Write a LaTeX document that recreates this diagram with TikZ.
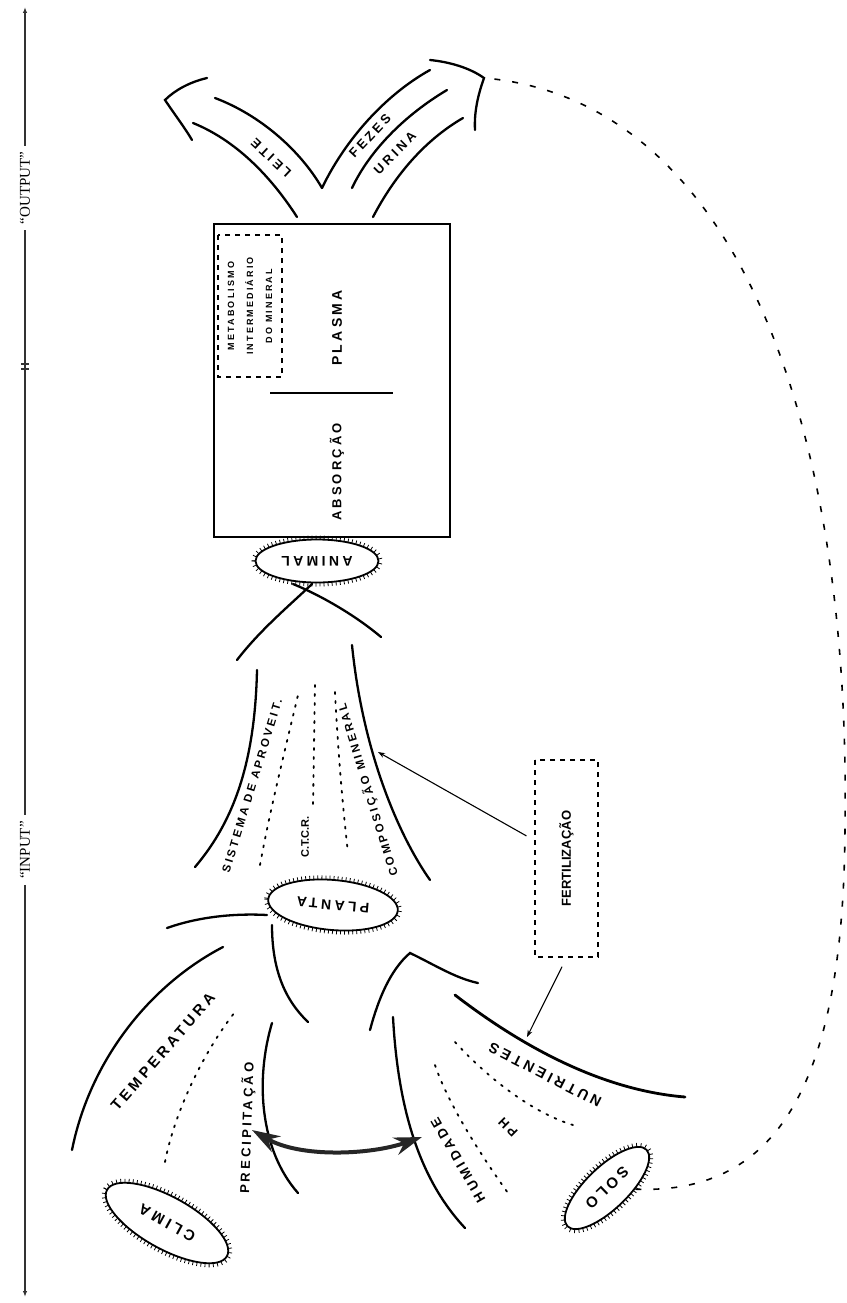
\documentclass[tikz,border=0pt]{standalone}
\usepackage{fontspec}
\setmainfont{Liberation Serif}
\newfontfamily\handfont[LetterSpace=24]{Liberation Sans}
\newfontfamily\plainhand{Liberation Sans}
\usetikzlibrary{arrows.meta,shapes.geometric,decorations.markings}

\begin{document}
\begin{tikzpicture}[x=1pt, y=-1pt,
  lettr/.style={font=\handfont\bfseries\fontsize{#1}{#1}\selectfont, inner sep=0pt},
  caps/.style={font=\plainhand\bfseries\fontsize{#1}{#1}\selectfont, inner sep=0pt},
  axis/.style={line width=1.4pt, black!80},
  flow/.style={line width=2.3pt, line cap=round},
  dots/.style={line width=1.8pt, dash pattern=on 2pt off 7pt, line cap=round},
  hairy/.style={ellipse, draw, line width=1.8pt, inner sep=0pt,
    postaction={decorate, decoration={markings,
      mark=between positions 0 and 1 step 4pt with
        {\draw[line width=0.8pt] (0,0) -- (0,-4pt);}}}},
  dbox/.style={draw, line width=1.4pt, dash pattern=on 5pt off 5pt},
  arr/.style={-{Stealth[length=7pt,width=5pt]}, line width=1.1pt},
  dbl/.style={{Stealth[length=28pt,width=18pt]}-{Stealth[length=28pt,width=18pt]},
    line width=4pt, black!85},
  feedback/.style={line width=1.6pt, dash pattern=on 6pt off 12pt}]

\useasboundingbox (0,0) rectangle (846,1303);

% ---------- input / output axis ----------
\coordinate (axtop) at (25,7);
\coordinate (axbot) at (25,1297);
\node[rotate=90, font=\fontsize{15}{15}\selectfont, inner sep=6pt] (outlbl) at (25,188) {``OUTPUT''};
\node[rotate=90, font=\fontsize{15}{15}\selectfont, inner sep=6pt] (inlbl) at (25,850) {``INPUT''};
\draw[axis, -{Latex[length=6pt]}] (outlbl) -- (axtop);
\draw[axis] (outlbl) -- (inlbl);
\draw[axis, -{Latex[length=6pt]}] (inlbl) -- (axbot);
\draw[axis] (21,364) -- (29,364) (21,369) -- (29,369);

% ---------- animal ----------
\node[draw, line width=1.5pt, minimum width=236pt, minimum height=313pt, inner sep=0pt]
  (animbox) at (332,380.5) {};
\node[dbox, rotate=90, minimum width=142pt, minimum height=64pt, align=center,
  font=\handfont\bfseries\fontsize{9}{19}\selectfont, inner sep=0pt] (metab) at (250,306)
  {METABOLISMO\\INTERMEDIÁRIO\\DO MINERAL};
\draw[line width=2.5pt] (270,393) -- (393,393);
\node[lettr=14, rotate=90] (plasma) at (337,328) {PLASMA};
\node[lettr=13, rotate=90] (absorc) at (337,472) {ABSORÇÃO};
\node[hairy, rotate=180, minimum width=123pt, minimum height=43pt, lettr=14]
  (animal) at (317,561) {ANIMAL};

% ---------- output arrows ----------
\draw[flow] (297,217) .. controls (270,175) and (235,140) .. (193,123);
\draw[flow] (322,188) .. controls (300,150) and (260,115) .. (215,98);
\draw[flow] (207,78) .. controls (190,82) and (175,90) .. (165,100)
  .. controls (175,115) and (185,128) .. (192,140);
\node[lettr=13, rotate=137] (leite) at (271,158) {LEITE};

\draw[flow] (322,188) .. controls (345,140) and (385,95) .. (430,70);
\draw[flow] (352,188) .. controls (370,150) and (405,115) .. (447,90);
\draw[flow] (373,217) .. controls (395,175) and (425,140) .. (463,118);
\coordinate (outtip) at (484,78);
\draw[flow] (430,60) .. controls (450,62) and (470,68) .. (outtip)
  .. controls (478,95) and (474,112) .. (475,130);
\node[lettr=13, rotate=47] (fezes) at (370,136) {FEZES};
\node[lettr=13, rotate=45] (urina) at (395,153) {URINA};

% ---------- planta -> animal ----------
\draw[flow] (312,584) .. controls (290,605) and (260,630) .. (237,660);
\draw[flow] (293,584) .. controls (320,595) and (355,615) .. (381,637);
\draw[flow] (257,670) .. controls (255,760) and (235,820) .. (195,867);
\draw[flow] (352,645) .. controls (362,745) and (395,830) .. (430,880);
\node[lettr=11.5, rotate=73] (sist) at (252,786) {SISTEMA DE APROVEIT.};
\node[caps=11, rotate=90] (ctcr) at (305,837) {C.T.C.R.};
\node[lettr=11.5, rotate=107] (compmin) at (368,790) {COMPOSIÇÃO MINERAL};
\draw[dots] (260,865) .. controls (270,810) and (285,750) .. (298,695);
\draw[dots] (315,685) -- (313,807);
\draw[dots] (335,692) .. controls (338,750) and (342,800) .. (348,853);
\node[hairy, rotate=175, minimum width=130pt, minimum height=50pt, lettr=14]
  (planta) at (333,905) {PLANTA};

% ---------- fertilizacao ----------
\node[dbox, rotate=90, minimum width=197pt, minimum height=63pt, caps=13]
  (fert) at (566.5,858.5) {FERTILIZAÇÃO};
\coordinate (compin) at (378,752);
\coordinate (nutrin) at (527,1037);
\draw[arr, shorten <=9pt] (fert) -- (compin);
\draw[arr, shorten <=10pt] (fert.west) -- (nutrin);

% ---------- clima ----------
\draw[flow] (267,915) .. controls (230,913) and (195,918) .. (167,928);
\draw[flow] (272,925) .. controls (272,970) and (285,1000) .. (308,1022);
\draw[flow] (72,1150) .. controls (90,1060) and (150,985) .. (223,947);
\draw[dots] (165,1162) .. controls (175,1110) and (205,1050) .. (235,1012);
\node[lettr=15, rotate=49] (temp) at (163,1052) {TEMPERATURA};
\node[lettr=13, rotate=88] (precip) at (247,1128) {PRECIPITAÇÃO};
\draw[flow] (272,1023) .. controls (255,1080) and (260,1150) .. (298,1193);
\node[hairy, rotate=151, minimum width=137pt, minimum height=52pt, lettr=15]
  (clima) at (167,1223) {CLIMA};

% ---------- solo ----------
\draw[flow] (370,1030) .. controls (378,1000) and (390,970) .. (410,953)
  .. controls (435,965) and (455,978) .. (478,983);
\draw[flow] (393,1017) .. controls (398,1110) and (420,1180) .. (465,1228);
\draw[flow, line width=2.8pt] (455,995) .. controls (520,1045) and (600,1090) .. (685,1097);
\draw[dots] (455,1042) .. controls (485,1075) and (530,1112) .. (573,1125);
\draw[dots] (435,1065) .. controls (445,1095) and (470,1140) .. (508,1193);
\node[lettr=14.5, rotate=153] (nutri) at (545,1075) {NUTRIENTES};
\node[lettr=13, rotate=135] (ph) at (508,1127) {PH};
\node[lettr=13.5, rotate=120] (humid) at (458,1160) {HUMIDADE};
\node[hairy, rotate=224, minimum width=110pt, minimum height=42pt, lettr=15]
  (solo) at (607,1188) {SOLO};

% ---------- precipitacao <-> humidade ----------
\coordinate (precend) at (252,1130);
\coordinate (humend) at (422,1137);
\draw[dbl] (precend) .. controls (300,1158) and (370,1155) .. (humend);

% ---------- return to output ----------
\draw[feedback] (solo) .. controls (780,1195) and (845,1080) .. (845,820)
  .. controls (850,430) and (740,100) .. (outtip);
\end{tikzpicture}
\end{document}
